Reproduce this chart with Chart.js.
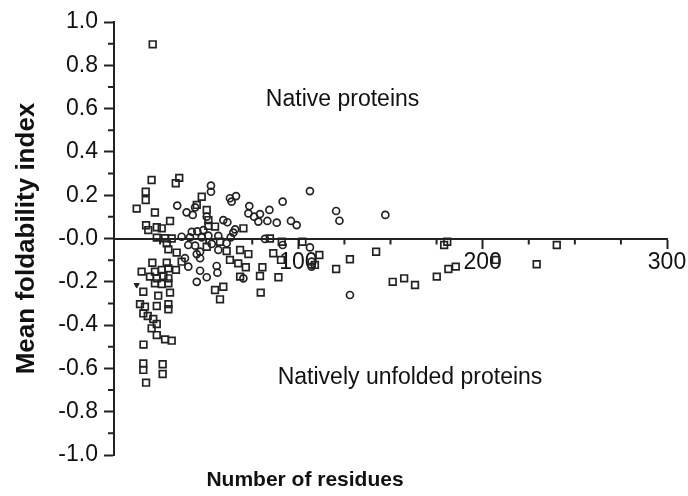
<!DOCTYPE html>
<html>
<head>
<meta charset="utf-8">
<script src="https://cdn.jsdelivr.net/npm/chart.js@4/dist/chart.umd.min.js"></script>
<style>
  html, body { margin: 0; padding: 0; background: #fff; }
  #wrap { width: 688px; height: 496px; }
</style>
</head>
<body>
<div id="wrap"><canvas id="myChart" width="688" height="496"></canvas></div>
<script>
// natively unfolded proteins (squares)
const squareResidues = [21, 20.4, 35.4, 33.5, 17.2, 17.2, 12.3, 22.2, 47.6, 44.9, 50.3, 30.4, 17.4, 18.6, 23.2, 25.9, 51.2, 51.2, 54.8, 70.2,
  23.2, 27.7, 31.3, 84.6, 91, 28.6, 29.5, 34, 50.3, 57.5, 61.1, 68.4, 72.9, 36.7, 62.9, 67.4, 71.5, 86.4, 90.6, 80.5,
  20.8, 28.6, 15, 22.2, 25.9, 29.5, 33.6, 19.5, 23.2, 26.8, 29.5, 22.2, 25.9, 29.5, 15.9, 30.4, 24, 14.1, 16.8, 23.2,
  29.5, 29.5, 15.9, 18.3, 21.3, 23.2, 20.4, 23.2, 27.7, 31.3, 68.4, 79.2, 89.2, 54.8, 59.3, 57.5, 79.6, 16, 15.9, 15.9,
  17.4, 26.4, 26.4, 102.2, 111.4, 109, 120.5, 128, 142.2, 151.2, 157.4, 163.3, 175.1, 181.4, 185.4, 179.1, 180.8, 207.1, 229.3, 240.2];
const squareIndex = [0.897, 0.27, 0.28, 0.255, 0.216, 0.178, 0.138, 0.12, 0.193, 0.155, 0.132, 0.081, 0.061, 0.039, 0.052, 0.047, 0.085, 0.058, 0.055, 0.047,
  0.004, 0.001, 0.0, 0.0, -0.015, -0.022, -0.05, -0.065, -0.038, -0.015, -0.058, -0.053, -0.072, -0.107, -0.099, -0.115, -0.133, -0.068, -0.099, -0.133,
  -0.112, -0.112, -0.153, -0.153, -0.145, -0.138, -0.145, -0.176, -0.184, -0.173, -0.184, -0.207, -0.21, -0.207, -0.246, -0.25, -0.264, -0.303, -0.315, -0.312,
  -0.303, -0.327, -0.346, -0.358, -0.372, -0.395, -0.415, -0.446, -0.466, -0.472, -0.176, -0.173, -0.179, -0.238, -0.223, -0.281, -0.25, -0.49, -0.577, -0.607,
  -0.666, -0.581, -0.626, -0.015, -0.076, -0.122, -0.141, -0.096, -0.061, -0.2, -0.184, -0.215, -0.176, -0.141, -0.13, -0.03, -0.015, -0.099, -0.119, -0.03];

// native proteins (circles)
const circleResidues = [52.6, 52.6, 34.3, 39.4, 42.7, 44, 62.9, 66.2, 63.8, 73.4, 72.9, 76, 79.2, 84.3, 78.3, 83.2, 88.3, 91.5, 96, 99.1,
  59.3, 61.5, 50.3, 42.2, 45.2, 48.5, 65.7, 36.7, 41.2, 47.6, 51.2, 56.6, 63.3, 64.7, 81.9, 40.3, 44, 46.7, 44.9, 53,
  56.6, 61.1, 38.5, 40.3, 46.7, 55.7, 56.1, 46.7, 50.3, 44.9, 70.2, 91.5, 106.3, 120.5, 122.3, 147.2, 106.3, 107.2, 107.2, 128];
const circleIndex = [0.244, 0.216, 0.152, 0.121, 0.109, 0.144, 0.186, 0.196, 0.17, 0.15, 0.116, 0.101, 0.113, 0.132, 0.078, 0.081, 0.073, 0.17, 0.081, 0.062,
  0.085, 0.075, 0.101, 0.031, 0.033, 0.039, 0.042, 0.008, 0.005, 0.005, 0.013, 0.012, 0.005, 0.027, -0.002, -0.03, -0.033, -0.061, -0.072, -0.025,
  -0.053, -0.022, -0.091, -0.13, -0.091, -0.127, -0.158, -0.149, -0.179, -0.2, -0.184, -0.03, 0.219, 0.127, 0.082, 0.109, -0.041, -0.107, -0.13, -0.261];

// single filled triangle
const triangleResidues = [12.3];
const triangleIndex = [-0.215];

const xLabelTicks = [100, 200, 300];
const xMinorTicks = [25, 50, 75, 125, 150, 175, 225, 250, 275];
const yMinorTicks = [-0.9, -0.7, -0.5, -0.3, -0.1, 0.1, 0.3, 0.5, 0.7, 0.9];

function pts(xs, ys) {
  return xs.map((x, i) => ({ x: x, y: ys[i] }));
}

const ink = "#222";
const fontName = "'Liberation Sans', Arial, sans-serif";

const extras = {
  id: "extras",
  afterDraw(chart) {
    const ctx = chart.ctx;
    const xs = chart.scales.x, ys = chart.scales.y;
    const y0 = ys.getPixelForValue(0);
    ctx.save();
    ctx.strokeStyle = ink;
    ctx.lineWidth = 2;
    ctx.beginPath();
    xMinorTicks.forEach(v => {
      const px = xs.getPixelForValue(v);
      ctx.moveTo(px, y0);
      ctx.lineTo(px, y0 + 6);
    });
    yMinorTicks.forEach(v => {
      const py = ys.getPixelForValue(v);
      ctx.moveTo(xs.left, py);
      ctx.lineTo(xs.left - 6, py);
    });
    ctx.stroke();

    ctx.fillStyle = "#111";
    ctx.font = "23px " + fontName;
    ctx.textAlign = "center";
    ctx.textBaseline = "middle";
    ctx.fillText("Native proteins", xs.getPixelForValue(124), ys.getPixelForValue(0.64));
    ctx.fillText("Natively unfolded proteins", xs.getPixelForValue(160.6), ys.getPixelForValue(-0.645));

    // x axis title sits below the plot, a bit left of centre
    ctx.font = "bold 21px " + fontName;
    ctx.fillText("Number of residues", 305, chart.height - 16);
    ctx.restore();
  }
};

new Chart(document.getElementById("myChart").getContext("2d"), {
  type: "scatter",
  data: {
    datasets: [{
      label: "Natively unfolded",
      data: pts(squareResidues, squareIndex),
      pointStyle: "rect",
      pointRadius: 4.7,
      borderColor: ink,
      backgroundColor: "rgba(0,0,0,0)",
      borderWidth: 1.7
    }, {
      label: "Native",
      data: pts(circleResidues, circleIndex),
      pointStyle: "circle",
      pointRadius: 3.5,
      borderColor: ink,
      backgroundColor: "rgba(0,0,0,0)",
      borderWidth: 1.7
    }, {
      label: "Other",
      data: pts(triangleResidues, triangleIndex),
      pointStyle: "triangle",
      rotation: 180,
      pointRadius: 3,
      borderColor: ink,
      backgroundColor: ink,
      borderWidth: 1
    }]
  },
  options: {
    responsive: false,
    animation: false,
    layout: { padding: { top: 22, right: 21, bottom: 41, left: 0 } },
    plugins: {
      legend: { display: false },
      tooltip: { enabled: false }
    },
    scales: {
      x: {
        type: "linear",
        position: { y: 0 },
        min: 0,
        max: 300,
        border: { color: ink, width: 2 },
        grid: { drawOnChartArea: false, drawTicks: true, tickLength: 9, tickColor: ink, tickWidth: 2 },
        afterBuildTicks: s => { s.ticks = xLabelTicks.map(v => ({ value: v })); },
        ticks: {
          color: "#111",
          font: { family: fontName, size: 23 },
          padding: 1
        }
      },
      y: {
        type: "linear",
        min: -1,
        max: 1,
        afterFit: s => { s.width = 114; },
        border: { color: ink, width: 2 },
        grid: { drawOnChartArea: false, drawTicks: true, tickLength: 10, tickColor: ink, tickWidth: 2 },
        ticks: {
          stepSize: 0.2,
          color: "#111",
          font: { family: fontName, size: 23 },
          padding: 6,
          callback: v => Math.abs(v) < 1e-9 ? "-0.0" : v.toFixed(1)
        },
        title: {
          display: true,
          text: "Mean foldability index",
          color: "#111",
          font: { family: fontName, size: 26, weight: "bold" },
          padding: { top: 11, bottom: 0 }
        }
      }
    }
  },
  plugins: [extras]
});
</script>
</body>
</html>
